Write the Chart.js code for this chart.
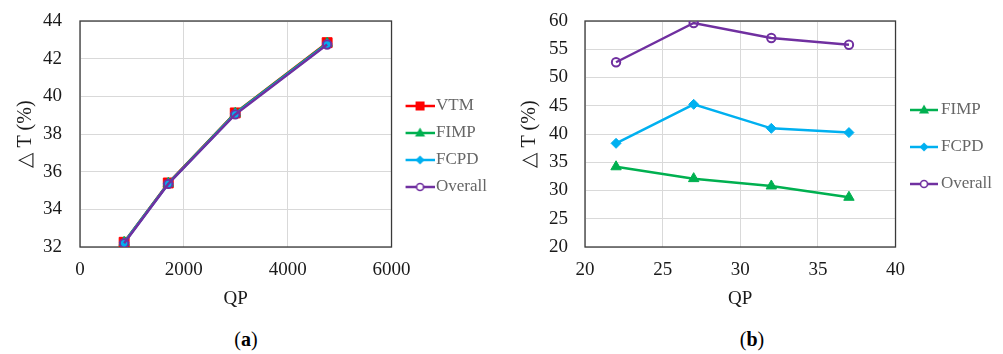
<!DOCTYPE html>
<html>
<head>
<meta charset="utf-8">
<script src="https://cdn.jsdelivr.net/npm/chart.js@4.4.1/dist/chart.umd.min.js"></script>
<style>
    body { margin: 0; background: #fff; }
    #wrap { position: relative; width: 1003px; height: 354px; }
    .box { position: absolute; top: 0; height: 320px; }
    .cap { position: absolute; top: 328px; font: 20px 'Liberation Serif', serif; color: #000; transform: translateX(-50%); }
</style>
</head>
<body>
<div id="wrap">
    <div class="box" style="left:0;width:500px"><canvas id="chart-a"></canvas></div>
    <div class="box" style="left:500px;width:503px"><canvas id="chart-b"></canvas></div>
    <div class="cap" style="left:246px">(<b>a</b>)</div>
    <div class="cap" style="left:752px">(<b>b</b>)</div>
</div>
<script>
// ── data ──────────────────────────────────────────────────────────────────
// (a) bitrate-style QP axis
const qpA      = [850, 1700, 2990, 4760];
const vtmA     = [32.25, 35.40, 39.12, 42.85];
const fimpA    = [32.25, 35.38, 39.10, 42.82];
const fcpdA    = [32.22, 35.36, 39.07, 42.78];
const overallA = [32.20, 35.35, 39.04, 42.75];
const xTicksA  = [0, 2000, 4000, 6000];
const yTicksA  = [32, 34, 36, 38, 40, 42, 44];

// (b) QP 22..37
const qpB      = [22, 27, 32, 37];
const fimpB    = [34.2, 32.1, 30.8, 28.8];
const fcpdB    = [38.35, 45.25, 41.0, 40.25];
const overallB = [52.7, 59.65, 57.0, 55.8];
const xTicksB  = [20, 25, 30, 35, 40];
const yTicksB  = [20, 25, 30, 35, 40, 45, 50, 55, 60];

// ── styles ────────────────────────────────────────────────────────────────
const SERIF = "'Liberation Serif', 'Times New Roman', serif";
const TEXT = '#1a1a1a';
const STYLE = {
    VTM:     { color: '#FF0000', shape: 'rect',     r: 7 },
    FIMP:    { color: '#00B050', shape: 'triangle', r: 6 },
    FCPD:    { color: '#00B0F0', shape: 'rectRot',  r: 5 },
    Overall: { color: '#7030A0', shape: 'circle',   r: 4.2 }
};

// plot frame, drawn over the grid
const framePlugin = {
    id: 'frame',
    beforeDatasetsDraw(chart) {
        const { ctx, chartArea: a } = chart;
        ctx.save();
        ctx.strokeStyle = '#3a3a3a';
        ctx.lineWidth = 1.3;
        ctx.strokeRect(a.left, a.top, a.right - a.left, a.bottom - a.top);
        ctx.restore();
    }
};

// legend icon: short line with the marker in the middle
function makeIcon(name, width, lineStart) {
    const st = STYLE[name];
    const c = document.createElement('canvas');
    c.width = width;
    c.height = 14;
    const g = c.getContext('2d');
    const cy = 7, cx = (lineStart + width) / 2;
    g.strokeStyle = st.color;
    g.fillStyle = st.color;
    g.lineWidth = 2.5;
    g.beginPath();
    g.moveTo(lineStart, cy);
    g.lineTo(width, cy);
    g.stroke();
    g.beginPath();
    if (st.shape === 'rect') {
        g.fillRect(cx - 4.5, cy - 4.5, 9, 9);
    } else if (st.shape === 'triangle') {
        g.moveTo(cx, cy - 5.5);
        g.lineTo(cx + 5, cy + 3.5);
        g.lineTo(cx - 5, cy + 3.5);
        g.closePath();
        g.fill();
    } else if (st.shape === 'rectRot') {
        g.moveTo(cx, cy - 4.5);
        g.lineTo(cx + 4.5, cy);
        g.lineTo(cx, cy + 4.5);
        g.lineTo(cx - 4.5, cy);
        g.closePath();
        g.fill();
    } else {
        g.arc(cx, cy, 3.5, 0, Math.PI * 2);
        g.fillStyle = '#fff';
        g.fill();
        g.lineWidth = 1.6;
        g.stroke();
    }
    return c;
}

function series(name, xs, ys) {
    const st = STYLE[name];
    return {
        label: name,
        data: xs.map((x, i) => ({ x, y: ys[i] })),
        showLine: true,
        borderColor: st.color,
        backgroundColor: st.color,
        borderWidth: 2.5,
        pointStyle: st.shape,
        pointRadius: st.r,
        pointHoverRadius: st.r,
        pointBorderWidth: st.shape === 'circle' ? 2 : 1,
        pointBackgroundColor: st.shape === 'circle' ? 'rgba(0,0,0,0)' : st.color
    };
}

function axis(ticks, extra) {
    return Object.assign({
        type: 'linear',
        min: ticks[0],
        max: ticks[ticks.length - 1],
        ticks: {
            stepSize: ticks[1] - ticks[0],
            color: TEXT,
            font: { family: SERIF, size: 19 },
            callback: v => String(v)
        },
        grid: { color: '#d9d9d9', lineWidth: 1, drawTicks: false },
        border: { display: false }
    }, extra);
}

function renderPanel(canvasId, datasets, xTicks, yTicks, lay) {
    const names = datasets.map(d => d.label);
    const icons = names.map(n => makeIcon(n, lay.iconWidth, lay.lineStart));
    const x = axis(xTicks, {
        title: { display: true, text: 'QP', color: TEXT, font: { family: SERIF, size: 19 }, padding: { top: 0, bottom: 10 } },
        afterFit: s => { s.height = 73; }
    });
    x.ticks.padding = 12;
    const y = axis(yTicks, {
        title: { display: true, text: '\u25B3 T (%)', color: TEXT, font: { family: SERIF, size: 20 }, padding: { top: lay.yTitlePad, bottom: 0 } },
        afterFit: s => { s.width = lay.yWidth; }
    });
    // gap between labels and plot comes from invisible tick marks:
    // ticks.padding would also be added to the plot's top margin
    y.ticks.padding = 0;
    y.grid.drawTicks = true;
    y.grid.tickLength = lay.yTickGap;
    y.grid.tickColor = 'rgba(0,0,0,0)';

    const chart = new Chart(document.getElementById(canvasId), {
        type: 'scatter',
        data: { datasets },
        options: {
            animation: false,
            responsive: true,
            maintainAspectRatio: false,
            layout: { padding: { top: 21, right: 0, bottom: 0, left: 0 } },
            plugins: {
                tooltip: { enabled: false },
                legend: {
                    position: 'right',
                    align: 'start',
                    title: { display: true, text: '', font: { size: 10, lineHeight: 1 }, padding: { top: lay.legendTop, bottom: 0 } },
                    labels: {
                        usePointStyle: true,
                        pointStyleWidth: lay.boxWidth,
                        padding: lay.legendPad,
                        color: TEXT,
                        font: { family: SERIF, size: 17 },
                        generateLabels: () => names.map((n, i) => ({
                            text: n,
                            pointStyle: icons[i],
                            datasetIndex: i,
                            hidden: false,
                            lineWidth: 0,
                            fillStyle: 'transparent',
                            strokeStyle: 'transparent'
                        }))
                    }
                }
            },
            scales: { x, y }
        },
        plugins: [framePlugin]
    });

    // push the legend right until the plot's right edge sits where the reference has it
    const dRight = Math.round(chart.chartArea.right - lay.plotRight);
    if (dRight > 0) {
        chart.options.layout.padding.right = dRight;
        chart.update();
    }
    return chart;
}

// draw order: Overall on top
const setA = [
    series('VTM', qpA, vtmA),
    series('FIMP', qpA, fimpA),
    series('FCPD', qpA, fcpdA),
    series('Overall', qpA, overallA)
];
setA.forEach((d, i) => { d.order = setA.length - i; });

const setB = [
    series('FIMP', qpB, fimpB),
    series('FCPD', qpB, fcpdB),
    series('Overall', qpB, overallB)
];
setB.forEach((d, i) => { d.order = setB.length - i; });

renderPanel('chart-a', setA, xTicksA, yTicksA, {
    yWidth: 80, yTickGap: 18, yTitlePad: 14, plotRight: 392,
    legendPad: 10, legendTop: 56.5, boxWidth: 26, iconWidth: 40, lineStart: 11
});
renderPanel('chart-b', setB, xTicksB, yTicksB, {
    yWidth: 85, yTickGap: 17, yTitlePad: 18, plotRight: 396,
    legendPad: 20, legendTop: 50.5, boxWidth: 17, iconWidth: 28, lineStart: 0
});
</script>
</body>
</html>
